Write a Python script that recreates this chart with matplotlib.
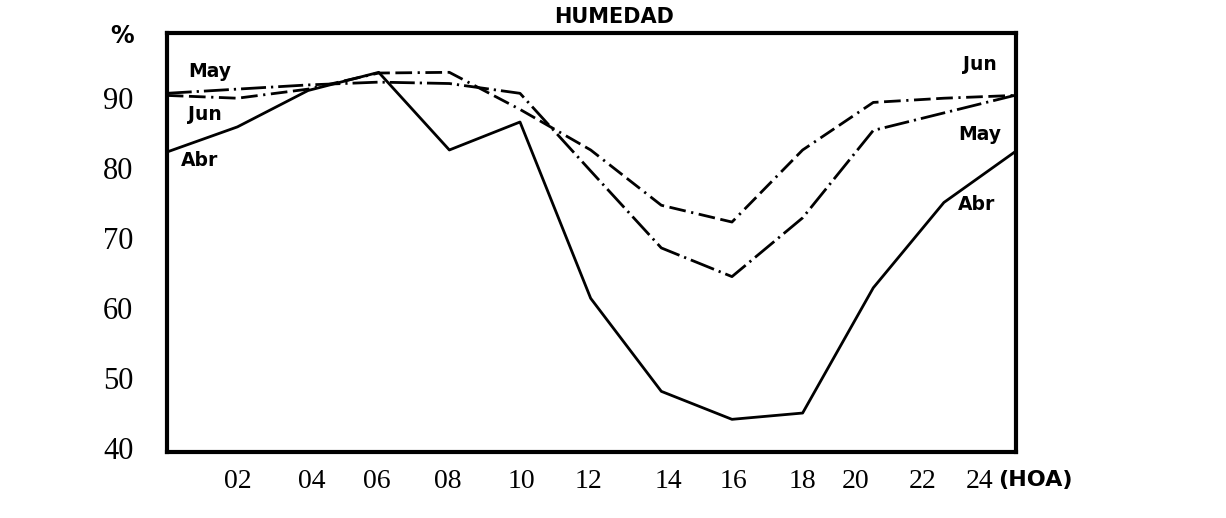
import matplotlib.pyplot as plt

# Hourly relative humidity (%)
hours = [0, 2, 4, 6, 8, 10, 12, 14, 16, 18, 20, 22, 24]
abr = [82.3, 85.9, 91.1, 93.7, 82.6, 86.6, 61.4, 48.1, 44.1, 45.0, 62.9, 75.1, 82.3]
may = [90.7, 91.3, 91.9, 92.3, 92.1, 90.7, 79.6, 68.6, 64.5, 72.9, 85.4, 87.9, 90.4]
jun = [90.4, 90.0, 91.3, 93.6, 93.7, 88.4, 82.6, 74.7, 72.3, 82.6, 89.4, 90.0, 90.4]

x_labels = ['02', '04', '06', '08', '10', '12', '14', '16', '18', '20', '22', '24']
y_ticks = [40, 50, 60, 70, 80, 90]

# the printed hour labels drift left near the end of the axis
x_tick_pos = [2, 4.1, 5.95, 7.95, 10.05, 11.95, 14.2, 16.05, 18, 19.5, 21.4, 23]

fig = plt.figure(figsize=(12.26, 5.18), dpi=100)
ax = fig.add_axes([0.136, 0.127, 0.693, 0.809])

ax.plot(hours, abr, color='black', lw=2, ls='-')
ax.plot(hours, may, color='black', lw=2, ls=(0, (9, 1.8, 0.8, 1.8)))
ax.plot(hours, jun, color='black', lw=2, ls=(0, (6, 2, 6, 2, 0.8, 2)))

ax.set_xlim(0, 24.05)
ax.set_ylim(39.4, 99.3)

for s in ax.spines.values():
    s.set_linewidth(3)

ax.set_xticks(x_tick_pos)
ax.set_xticklabels(x_labels, family='Liberation Serif', fontsize=20)
ax.set_yticks(y_ticks)
ax.set_yticklabels([str(v) for v in y_ticks], family='Liberation Serif', fontsize=22)
ax.tick_params(axis='x', length=0, pad=12)
ax.tick_params(axis='y', length=0, pad=24)

lab = dict(fontsize=13.5, fontweight='bold', family='DejaVu Sans', ha='center', va='center')
ax.text(210 / 1226, 1 - 71 / 518, 'May', transform=fig.transFigure, **lab)
ax.text(205 / 1226, 1 - 115 / 518, 'Jun', transform=fig.transFigure, **lab)
ax.text(200 / 1226, 1 - 160 / 518, 'Abr', transform=fig.transFigure, **lab)
ax.text(980 / 1226, 1 - 64 / 518, 'Jun', transform=fig.transFigure, **lab)
ax.text(980 / 1226, 1 - 135 / 518, 'May', transform=fig.transFigure, **lab)
ax.text(977 / 1226, 1 - 205 / 518, 'Abr', transform=fig.transFigure, **lab)

fig.text(614 / 1226, 1 - 17 / 518, 'HUMEDAD', fontsize=15, fontweight='bold',
         family='DejaVu Sans Condensed', ha='center', va='center')
fig.text(122 / 1226, 1 - 36 / 518, '%', fontsize=17, fontweight='bold',
         ha='center', va='center')
fig.text(1035 / 1226, 1 - 480 / 518, '(HOA)', fontsize=16, fontweight='bold',
         family='DejaVu Sans', ha='center', va='center')

fig.savefig('out.png', dpi=100)
